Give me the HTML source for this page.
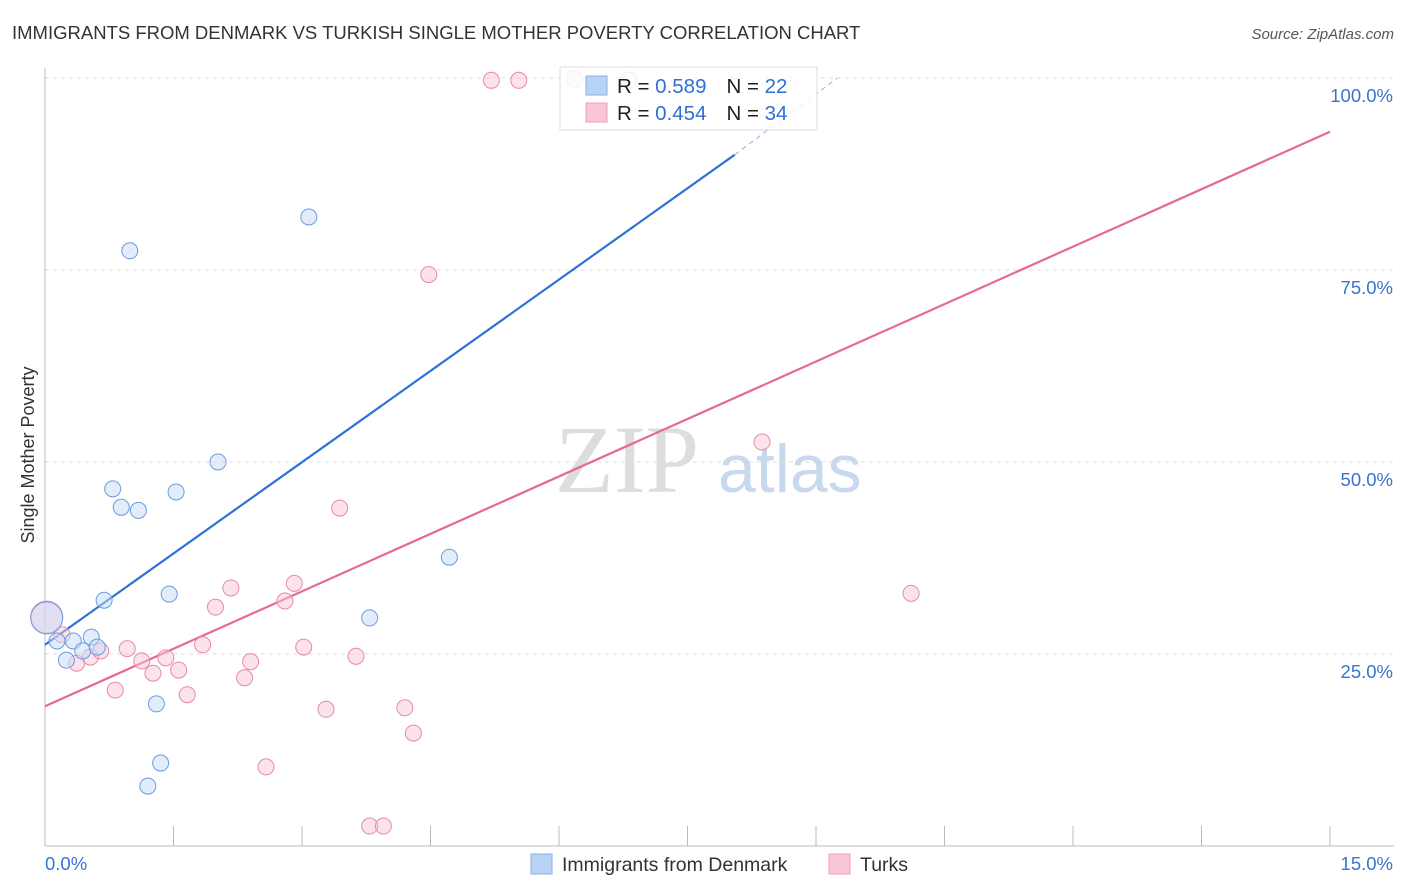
<!DOCTYPE html>
<html><head><meta charset="utf-8"><style>
body{margin:0;background:#fff;font-family:"Liberation Sans",sans-serif}
svg{display:block}
</style></head><body>
<svg id="c" width="1406" height="892" xmlns="http://www.w3.org/2000/svg">
<text x="12" y="39" font-size="18.5" fill="#333">IMMIGRANTS FROM DENMARK VS TURKISH SINGLE MOTHER POVERTY CORRELATION CHART</text>
<text x="1394" y="39" font-size="15" fill="#555" font-style="italic" text-anchor="end">Source: ZipAtlas.com</text>
<text x="34" y="455" font-size="18" fill="#333" text-anchor="middle" transform="rotate(-90 34 455)">Single Mother Poverty</text>
<text x="555" y="492" font-size="96" fill="#ddd" font-family="Liberation Serif,serif">ZIP</text>
<text x="718" y="492" font-size="68" fill="#c8d8ef">atlas</text>
<g id="grid"></g><g id="axes"></g><g id="lines"></g><g id="pts"></g>
<g>
<rect x="560" y="67" width="257" height="63" fill="#fff" fill-opacity="0.85" stroke="#ddd"/>
<rect x="586" y="76" width="21" height="19" fill="#b9d3f5" stroke="#8ab0e6"/>
<rect x="586" y="103" width="21" height="19" fill="#f9c6d5" stroke="#eea0b8"/>
<text x="617" y="93" font-size="20.5" fill="#222">R = <tspan fill="#2f6fd6">0.589</tspan><tspan dx="20">N = </tspan><tspan fill="#2f6fd6">22</tspan></text>
<text x="617" y="120" font-size="20.5" fill="#222">R = <tspan fill="#2f6fd6">0.454</tspan><tspan dx="20">N = </tspan><tspan fill="#2f6fd6">34</tspan></text>
</g>
<g>
<rect x="531" y="854" width="21" height="20" fill="#b9d3f5" stroke="#8ab0e6"/>
<text x="562" y="871" font-size="19.5" fill="#333">Immigrants from Denmark</text>
<rect x="829" y="854" width="21" height="20" fill="#f9c6d5" stroke="#eea0b8"/>
<text x="860" y="871" font-size="19.5" fill="#333">Turks</text>
</g>
</svg>
<script>
const xTicks=[0,1.5,3,4.5,6,7.5,9,10.5,12,13.5,15];
const yTicks=[25,50,75,100];
const yTickLabels=["25.0%","50.0%","75.0%","100.0%"];
const denX=[0.02,0.14,0.25,0.33,0.44,0.54,0.61,0.69,0.79,0.89,0.99,1.09,1.30,1.35,1.20,1.45,1.53,2.02,3.08,3.79,4.72,6.81];
const denY=[29.7,26.7,24.2,26.7,25.4,27.2,25.9,32.0,46.5,44.1,77.5,43.7,18.5,10.8,7.8,32.8,46.1,50.0,81.9,29.7,37.6,99.7];
const turX=[0.02,0.20,0.37,0.53,0.65,0.82,0.96,1.13,1.26,1.41,1.56,1.66,1.84,1.99,2.17,2.33,2.40,2.58,2.80,2.91,3.02,3.28,3.44,3.63,3.79,3.95,4.20,4.30,4.48,5.21,5.53,6.18,8.37,10.11];
const turY=[29.8,27.5,23.8,24.6,25.4,20.3,25.7,24.1,22.5,24.5,22.9,19.7,26.2,31.1,33.6,21.9,24.0,10.3,31.9,34.2,25.9,17.8,44.0,24.7,2.6,2.6,18.0,14.7,74.4,99.7,99.7,99.9,52.6,32.9];
const denTrend=[[0,26.2],[8.05,90.0]];
const denTrendExt=[[8.05,90.0],[9.25,100]];
const turTrend=[[0,18.2],[15,93.0]];
const X=v=>45+v/15*1285, Y=v=>846-v/100*768;
const NS="http://www.w3.org/2000/svg";
function mk(p,t,a){const e=document.createElementNS(NS,t);for(const k in a)e.setAttribute(k,a[k]);document.getElementById(p).appendChild(e);return e;}
yTicks.forEach((t,i)=>{
 const l=mk('grid','line',{x1:45,x2:1394,y1:Y(t),y2:Y(t),stroke:'#ddd','stroke-dasharray':'4,4'});
 
 
 const tx=mk('grid','text',{x:1393,y:Y(t)+24,'font-size':18.5,fill:'#3a74d0','text-anchor':'end'});tx.textContent=yTickLabels[i];
 
 
});
mk('axes','line',{x1:45,x2:45,y1:68,y2:846,stroke:'#bbb'});
mk('axes','line',{x1:45,x2:1394,y1:846,y2:846,stroke:'#bbb'});
xTicks.forEach(t=>{const l=mk('axes','line',{x1:X(t),x2:X(t),y1:826,y2:846,stroke:'#bbb'});
 
 });
let a=mk('axes','text',{x:45,y:870,'font-size':18.5,fill:'#3a74d0'});a.textContent="0.0%";


a=mk('axes','text',{x:1393,y:870,'font-size':18.5,fill:'#3a74d0','text-anchor':'end'});a.textContent="15.0%";


function dot(x,y,big,fill,stroke,name){const c=mk('pts','circle',{cx:X(x),cy:Y(y),r:big?16:8,fill:fill,'fill-opacity':0.5,stroke:stroke,'stroke-width':1});
 
 }
turX.forEach((x,i)=>dot(x,turY[i],i==0,'#f9c6d5','#e88aa8','turks-point'));
denX.forEach((x,i)=>dot(x,denY[i],i==0,'#c5dbf7','#6a9be0','denmark-point'));
let t=mk('lines','line',{x1:X(turTrend[0][0]),y1:Y(turTrend[0][1]),x2:X(turTrend[1][0]),y2:Y(turTrend[1][1]),stroke:'#e56a93','stroke-width':2.2});


t=mk('lines','line',{x1:X(denTrend[0][0]),y1:Y(denTrend[0][1]),x2:X(denTrend[1][0]),y2:Y(denTrend[1][1]),stroke:'#2f72d6','stroke-width':2.2});


t=mk('lines','line',{x1:X(denTrendExt[0][0]),y1:Y(denTrendExt[0][1]),x2:X(denTrendExt[1][0]),y2:Y(denTrendExt[1][1]),stroke:'#8ab0e6','stroke-width':1,'stroke-dasharray':'5,4'});


</script>
</body></html>
